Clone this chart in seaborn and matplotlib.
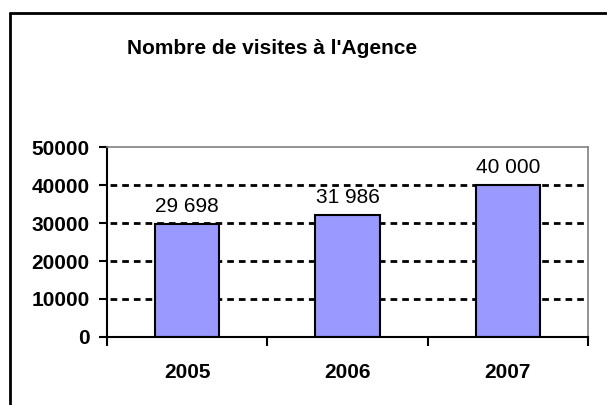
import matplotlib
matplotlib.use("Agg")
import matplotlib.pyplot as plt
from matplotlib.lines import Line2D
import seaborn as sns

# --- Data ---
years = ["2005", "2006", "2007"]
visits = [29698, 31986, 40000]
y_ticks = [0, 10000, 20000, 30000, 40000, 50000]
title = "Nombre de visites à l'Agence"

sns.set_style("white")
plt.rcParams["font.family"] = ["Liberation Sans", "DejaVu Sans"]
# seaborn greys the text, the original is plain black
plt.rcParams["text.color"] = "black"
plt.rcParams["xtick.color"] = "black"
plt.rcParams["ytick.color"] = "black"
plt.rcParams["axes.labelcolor"] = "black"

fig = plt.figure(figsize=(6.07, 4.05), dpi=100)
ax = fig.add_axes([107 / 607, 1 - 337 / 405, 481 / 607, 190 / 405])

sns.barplot(x=years, y=visits, color="#9999FF", width=0.4,
            edgecolor="black", linewidth=1.5, saturation=1, ax=ax)

ax.set_ylim(0, 50000)
ax.set_xlim(-0.5, len(years) - 0.5)
ax.set_yticks(y_ticks)
ax.set_yticklabels([str(t) for t in y_ticks], fontsize=15, fontweight="bold")
ax.set_xticks(range(len(years)))
ax.set_xticklabels(years, fontsize=15, fontweight="bold")
ax.set_xticks([i - 0.5 for i in range(len(years) + 1)], minor=True)
ax.set_xlabel("")
ax.set_ylabel("")

ax.tick_params(axis="x", which="major", length=0, pad=19)
ax.tick_params(axis="x", which="minor", length=6.5, width=1.5, direction="out", bottom=True, color="black")
ax.tick_params(axis="y", length=5.5, width=1.5, direction="out", left=True, pad=7, color="black")

# dashed grid, skip the lines that sit on the frame
ax.set_axisbelow(True)
ax.yaxis.grid(True, color="black", linewidth=2, linestyle=(3.1, (2.4, 1.8)))
gl = ax.get_ygridlines()
gl[0].set_visible(False)
gl[-1].set_visible(False)

for side in ["left", "bottom"]:
    ax.spines[side].set_color("black")
    ax.spines[side].set_linewidth(1.5)
for side in ["top", "right"]:
    ax.spines[side].set_color("#808080")
    ax.spines[side].set_linewidth(1.2)

labels = [f"{v:,}".replace(",", " ") for v in visits]
ax.bar_label(ax.containers[0], labels=labels, padding=6, fontsize=15, color="black")

fig.text(272 / 607, 1 - 48 / 405, title, ha="center", va="center",
         fontsize=15, fontweight="bold", color="black")

# chart frame (only top and left are visible in the crop)
fig.lines.append(Line2D([9.5 / 607, 1.0], [1 - 12.5 / 405, 1 - 12.5 / 405],
                        transform=fig.transFigure, color="black", linewidth=2))
fig.lines.append(Line2D([9.5 / 607, 9.5 / 607], [0, 1 - 12.5 / 405],
                        transform=fig.transFigure, color="black", linewidth=2))

fig.savefig("out.png", dpi=100)
